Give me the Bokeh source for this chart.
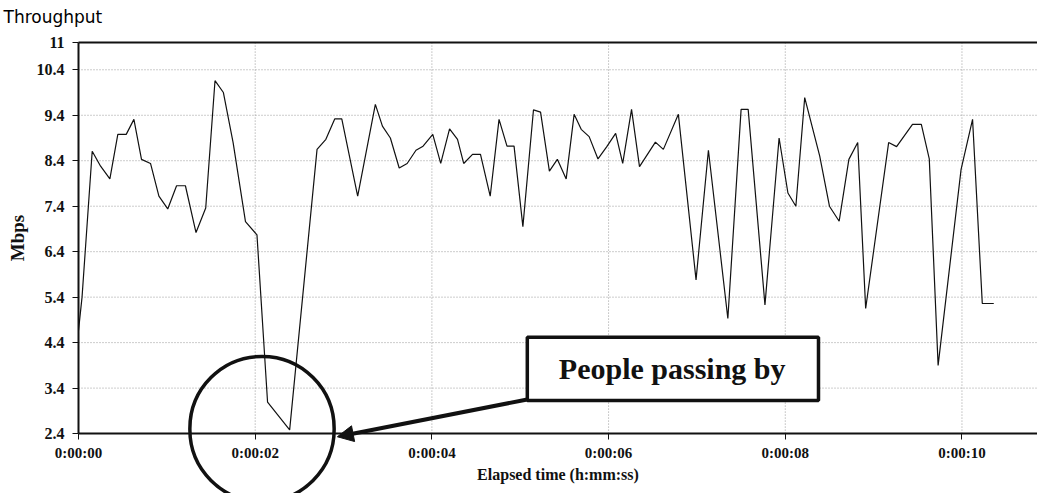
from bokeh.plotting import figure
from bokeh.models import (FixedTicker, Range1d, BoxAnnotation, Label,
                          Arrow, NormalHead)
from bokeh.embed import file_html
from bokeh.resources import INLINE

# ---- data ----
elapsed_s = [0.0, 0.04, 0.155, 0.25, 0.355, 0.445, 0.54, 0.627, 0.713, 0.815, 0.91,
             1.01, 1.11, 1.21, 1.33, 1.44, 1.545, 1.64, 1.75, 1.89, 2.02, 2.14, 2.39,
             2.70, 2.80, 2.90, 2.98, 3.16, 3.36, 3.44, 3.53, 3.63, 3.72, 3.82, 3.90,
             4.01, 4.10, 4.20, 4.29, 4.36, 4.46, 4.55, 4.66, 4.76, 4.85, 4.93, 5.03,
             5.15, 5.23, 5.33, 5.42, 5.52, 5.61, 5.69, 5.78, 5.88, 5.98, 6.08, 6.16,
             6.26, 6.35, 6.44, 6.53, 6.62, 6.79, 6.99, 7.13, 7.35, 7.50, 7.58, 7.77,
             7.93, 8.03, 8.12, 8.22, 8.39, 8.50, 8.61, 8.72, 8.82, 8.91, 9.17, 9.26,
             9.44, 9.54, 9.63, 9.73, 9.99, 10.12, 10.23, 10.36]
throughput_mbps = [4.67, 5.4, 8.61, 8.28, 8.0, 8.98, 8.98, 9.31, 8.43, 8.34, 7.62,
                   7.34, 7.85, 7.85, 6.82, 7.36, 10.16, 9.9, 8.8, 7.06, 6.77, 3.09, 2.48,
                   8.65, 8.87, 9.32, 9.32, 7.62, 9.64, 9.16, 8.9, 8.24, 8.34, 8.63, 8.72,
                   8.98, 8.34, 9.1, 8.87, 8.34, 8.54, 8.54, 7.62, 9.31, 8.72, 8.72, 6.95,
                   9.52, 9.47, 8.17, 8.43, 8.0, 9.42, 9.09, 8.93, 8.44, 8.71, 9.0, 8.34,
                   9.53, 8.27, 8.54, 8.81, 8.65, 9.42, 5.78, 8.63, 4.93, 9.53, 9.53, 5.23,
                   8.9, 7.69, 7.4, 9.79, 8.5, 7.4, 7.07, 8.43, 8.8, 5.15, 8.8, 8.71,
                   9.2, 9.2, 8.44, 3.9, 8.21, 9.31, 5.26, 5.26]

y_ticks = [2.4, 3.4, 4.4, 5.4, 6.4, 7.4, 8.4, 9.4, 10.4, 11]
y_tick_labels = ["2.4", "3.4", "4.4", "5.4", "6.4", "7.4", "8.4", "9.4", "10.4", "11"]
x_ticks = [0, 2, 4, 6, 8, 10]
x_tick_labels = ["0:00:00", "0:00:02", "0:00:04", "0:00:06", "0:00:08", "0:00:10"]

annotation_text = "People passing by"

SERIF = "Liberation Serif"
INK = "#111111"
GRID = "#999999"
Y_MIN, Y_MAX = y_ticks[0], y_ticks[-1]
X_MIN, X_MAX = 0, 10.855

# The frame fills the figure below the title, so the circle and the arrow are
# not cut; both axes are pinned inside it at the data origin (0 s, 2.4 Mbps).
p = figure(width=1037, height=493, output_backend="svg", toolbar_location=None,
           x_range=Range1d(-0.883, X_MAX), y_range=Range1d(1.082, 11.264),
           min_border_left=0, min_border_right=0, min_border_top=30,
           min_border_bottom=0, title="Throughput")

p.title.text_font = "DejaVu Sans"
p.title.text_font_size = "17px"
p.title.text_font_style = "normal"
p.title.text_color = "#000000"
p.title.align = "left"
p.title.vertical_align = "top"
p.title.offset = 3
p.title.standoff = 4

p.outline_line_color = None
p.background_fill_color = "white"
p.border_fill_color = "white"

# axes
p.xaxis.ticker = FixedTicker(ticks=x_ticks)
p.xaxis.major_label_overrides = {t: l for t, l in zip(x_ticks, x_tick_labels)}
p.xaxis.fixed_location = Y_MIN
p.xaxis.bounds = (X_MIN, X_MAX)
p.yaxis.ticker = FixedTicker(ticks=y_ticks)
p.yaxis.major_label_overrides = {t: l for t, l in zip(y_ticks, y_tick_labels)}
p.yaxis.fixed_location = X_MIN
p.yaxis.bounds = (Y_MIN, Y_MAX)

for ax in (p.xaxis[0], p.yaxis[0]):
    ax.axis_line_color = INK
    ax.axis_line_width = 2
    ax.major_tick_line_color = INK
    ax.major_tick_in = 0
    ax.major_tick_out = 6
    ax.minor_tick_line_color = None
    ax.major_label_text_font = SERIF
    ax.major_label_text_font_style = "bold"
    ax.major_label_text_color = INK
    ax.axis_label_text_font = SERIF
    ax.axis_label_text_font_style = "bold"
    ax.axis_label_text_color = INK

p.xaxis.major_label_text_font_size = "15px"
p.yaxis.major_label_text_font_size = "16px"
p.xaxis.major_label_standoff = 5
p.yaxis.major_label_standoff = 8
p.xaxis.axis_label = "Elapsed time (h:mm:ss)"
p.xaxis.axis_label_text_font_size = "16px"
p.xaxis.axis_label_standoff = 2
p.yaxis.axis_label = "Mbps"
p.yaxis.axis_label_text_font_size = "19px"
p.yaxis.axis_label_standoff = 6

# grid: dotted lines over the data area only
p.xgrid.visible = False
p.ygrid.visible = False
gy = y_ticks[1:-1]
p.segment(x0=[X_MIN] * len(gy), y0=gy, x1=[X_MAX] * len(gy), y1=gy,
          line_color=GRID, line_dash="1 2", line_width=1, level="underlay")
gx = x_ticks[1:]
p.segment(x0=gx, y0=[Y_MIN] * len(gx), x1=gx, y1=[Y_MAX] * len(gx),
          line_color=GRID, line_dash="1 2", line_width=1, level="underlay")

# top border line
p.segment(x0=[X_MIN], y0=[Y_MAX], x1=[X_MAX], y1=[Y_MAX],
          line_color=INK, line_width=2)

# the series
p.line(elapsed_s, throughput_mbps, line_color=INK, line_width=1.2)

# annotation box with text
p.add_layout(BoxAnnotation(left=5.08, right=8.376, bottom=3.126, top=4.52,
                           fill_color="white", fill_alpha=1.0,
                           line_color=INK, line_alpha=1.0, line_width=3.5))
p.add_layout(Label(x=6.72, y=3.83, text=annotation_text, text_font=SERIF,
                   text_font_style="bold", text_font_size="30px",
                   text_align="center", text_baseline="middle",
                   text_color=INK))

# arrow from box corner to circle
p.add_layout(Arrow(x_start=5.08, y_start=3.15, x_end=2.93, y_end=2.33,
                   line_color=INK, line_width=4,
                   end=NormalHead(size=16, fill_color=INK, line_color=INK)))

# circle around the dip (an empty label with a fully rounded border)
p.add_layout(Label(x=2.077, y=2.50, text=" ", text_font_size="1px",
                   text_align="center", text_baseline="middle",
                   padding=72, border_radius=72,
                   border_line_color=INK, border_line_width=3.5,
                   background_fill_color=None))

open("out.html", "w").write(file_html(p, INLINE))
